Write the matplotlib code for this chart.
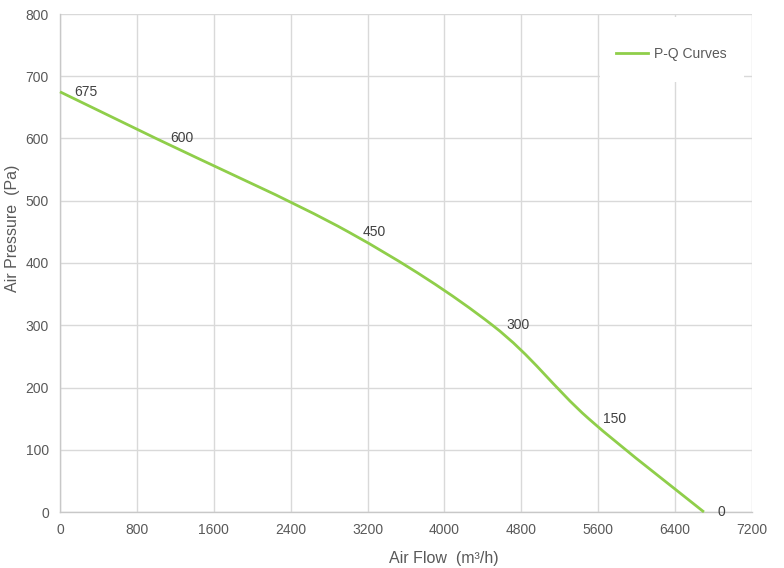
import matplotlib
matplotlib.use('Agg')
import matplotlib.pyplot as plt
from matplotlib.path import Path
from matplotlib.patches import PathPatch, Rectangle
from matplotlib.lines import Line2D

# P-Q data points
air_flow = [0, 1000, 3000, 4500, 5500, 6700]
air_pressure = [675, 600, 450, 300, 150, 0]
point_labels = ['675', '600', '450', '300', '150', '0']

x_ticks = [0, 800, 1600, 2400, 3200, 4000, 4800, 5600, 6400, 7200]
y_ticks = [0, 100, 200, 300, 400, 500, 600, 700, 800]

line_color = '#8fce4a'
grid_color = '#d9d9d9'
text_color = '#595959'


def smooth_path(xs, ys):
    # spreadsheet-style smoothed line: cubic bezier segments through the points
    verts = [(xs[0], ys[0])]
    codes = [Path.MOVETO]
    n = len(xs)
    for i in range(n - 1):
        x0, y0 = xs[max(i - 1, 0)], ys[max(i - 1, 0)]
        x1, y1 = xs[i], ys[i]
        x2, y2 = xs[i + 1], ys[i + 1]
        x3, y3 = xs[min(i + 2, n - 1)], ys[min(i + 2, n - 1)]
        c1 = (x1 + (x2 - x0) / 6, y1 + (y2 - y0) / 6)
        c2 = (x2 - (x3 - x1) / 6, y2 - (y3 - y1) / 6)
        verts += [c1, c2, (x2, y2)]
        codes += [Path.CURVE4] * 3
    return Path(verts, codes)


def run():
    plt.rcParams['font.family'] = ['Liberation Sans', 'DejaVu Sans']

    fig = plt.figure(figsize=(7.84, 5.68), dpi=100)
    ax = fig.add_axes([60 / 784, 56 / 568, 692 / 784, 498 / 568])

    ax.set_xlim(0, 7200)
    ax.set_ylim(0, 800)
    ax.set_xticks(x_ticks)
    ax.set_yticks(y_ticks)
    ax.grid(True, color=grid_color, linewidth=1.0)
    ax.set_axisbelow(True)
    for side in ['top', 'right']:
        ax.spines[side].set_visible(False)
    for side in ['left', 'bottom']:
        ax.spines[side].set_color('#c8c8c8')
        ax.spines[side].set_linewidth(1.0)
    ax.tick_params(length=0, labelsize=10, labelcolor=text_color, pad=8)

    patch = PathPatch(smooth_path(air_flow, air_pressure), facecolor='none',
                      edgecolor=line_color, linewidth=2.0, zorder=3,
                      clip_on=False)
    ax.add_patch(patch)

    for x, y, lbl in zip(air_flow, air_pressure, point_labels):
        ax.annotate(lbl, (x, y), xytext=(10, 0), textcoords='offset points',
                    ha='left', va='center', fontsize=10, color='#404040')

    ax.set_xlabel('Air Flow  (m³/h)', fontsize=11.5, color=text_color)
    ax.set_ylabel('Air Pressure  (Pa)', fontsize=11.5, color=text_color)
    ax.xaxis.set_label_coords(0.555, -0.078)
    ax.yaxis.set_label_coords(-0.058, 0.57)

    # white legend panel covering the grid
    ax.add_patch(Rectangle((5620, 690), 1500, 105, facecolor='white',
                           edgecolor='none', zorder=2))
    handle = Line2D([], [], color=line_color, linewidth=2.0)
    leg = ax.legend([handle], ['P-Q Curves'], loc='center left',
                    bbox_to_anchor=(0.785, 0.92), frameon=False, fontsize=10,
                    handlelength=2.3, handletextpad=0.45)
    for t in leg.get_texts():
        t.set_color(text_color)

    fig.savefig('out.png', dpi=100, facecolor='white')


if __name__ == '__main__':
    run()
